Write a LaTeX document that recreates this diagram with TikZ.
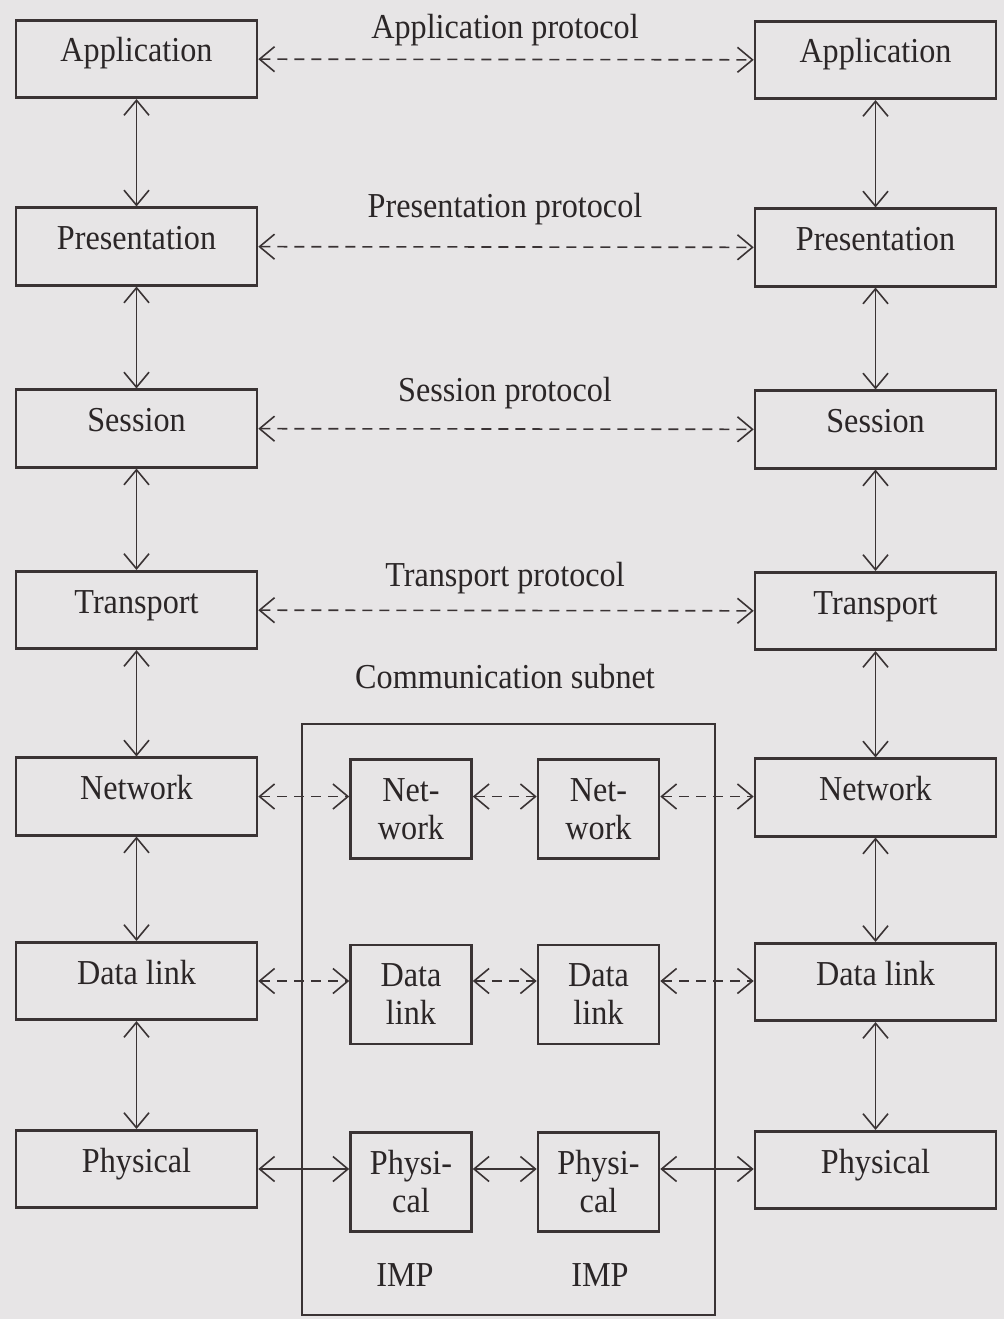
\documentclass[tikz,border=0pt]{standalone}
\usepackage{fontspec}
\setmainfont[FakeStretch=0.92]{Liberation Serif}
\usetikzlibrary{arrows.meta}
\definecolor{paper}{HTML}{E7E5E6}
\definecolor{ink}{HTML}{3A3334}
\definecolor{textink}{HTML}{2B2627}
\begin{document}
\begin{tikzpicture}[x=1pt,y=-1pt,
  every node/.style={font=\fontsize{35}{38}\selectfont, text=textink},
  layer/.style={draw=ink, line width=2.6pt, minimum width=241pt, minimum height=77.5pt,
    inner sep=0pt, text height=26pt, text depth=20pt},
  impbox/.style={draw=ink, line width=2.6pt, minimum width=121pt, minimum height=99pt,
    inner sep=0pt, align=center, text height=64pt, text depth=4pt},
  link/.style={draw=ink, line width=1.6pt,
    {Straight Barb[length=15pt,width=25pt]}-{Straight Barb[length=15pt,width=25pt]}},
  peer/.style={link, dash pattern=on 10pt off 7pt},
  caption/.style={anchor=base}
]
\fill[paper] (0,0) rectangle (1004,1319);
\useasboundingbox (0,0) rectangle (1004,1319);

% host A layers
\node[layer] (appL) at (136.5,59)     {Application};
\node[layer] (preL) at (136.5,246.5)  {Presentation};
\node[layer] (sesL) at (136.5,428.5)  {Session};
\node[layer] (traL) at (136.5,610)    {Transport};
\node[layer] (netL) at (136.5,796.5)  {Network};
\node[layer] (dlkL) at (136.5,981)    {Data link};
\node[layer] (phyL) at (136.5,1169)   {Physical};

% host B layers
\node[layer] (appR) at (875.5,60)     {Application};
\node[layer] (preR) at (875.5,247.5)  {Presentation};
\node[layer] (sesR) at (875.5,429.5)  {Session};
\node[layer] (traR) at (875.5,611)    {Transport};
\node[layer] (netR) at (875.5,797.5)  {Network};
\node[layer] (dlkR) at (875.5,982)    {Data link};
\node[layer] (phyR) at (875.5,1170)   {Physical};

% communication subnet with its two IMPs
\node[draw=ink, line width=2.6pt, minimum width=413pt, minimum height=591pt, inner sep=0pt]
  (subnet) at (508.5,1019.5) {};
\node[impbox] (netIL) at (411,809)    {Net-\\work};
\node[impbox] (netIR) at (598.5,809)  {Net-\\work};
\node[impbox] (dlkIL) at (411,994.5)  {Data\\link};
\node[impbox] (dlkIR) at (598.5,994.5){Data\\link};
\node[impbox] (phyIL) at (411,1182)   {Physi-\\cal};
\node[impbox] (phyIR) at (598.5,1182) {Physi-\\cal};

% captions
\node[caption] (capApp) at (505,39)   {Application protocol};
\node[caption] (capPre) at (505,217)  {Presentation protocol};
\node[caption] (capSes) at (505,401)  {Session protocol};
\node[caption] (capTra) at (505,586)  {Transport protocol};
\node[caption] (capSub) at (505,688)  {Communication subnet};
\node[caption] (impL)   at (405,1286) {IMP};
\node[caption] (impR)   at (600,1286) {IMP};

% vertical interfaces inside each host
\foreach \side in {L,R}{
  \draw[link] (app\side) -- (pre\side);
  \draw[link] (pre\side) -- (ses\side);
  \draw[link] (ses\side) -- (tra\side);
  \draw[link] (tra\side) -- (net\side);
  \draw[link] (net\side) -- (dlk\side);
  \draw[link] (dlk\side) -- (phy\side);
}

% peer protocols between hosts
\draw[peer] (appL) -- (appR);
\draw[peer] (preL) -- (preR);
\draw[peer] (sesL) -- (sesR);
\draw[peer] (traL) -- (traR);

% hop-by-hop protocols through the subnet
\draw[peer] (netL.east) -- (netIL.west |- netL.east);
\draw[peer] (netIL.east |- netL.east) -- (netIR.west |- netL.east);
\draw[peer] (netIR.east |- netL.east) -- (netR.west |- netL.east);

\draw[peer] (dlkL.east) -- (dlkIL.west |- dlkL.east);
\draw[peer] (dlkIL.east |- dlkL.east) -- (dlkIR.west |- dlkL.east);
\draw[peer] (dlkIR.east |- dlkL.east) -- (dlkR.west |- dlkL.east);

\draw[link] (phyL.east) -- (phyIL.west |- phyL.east);
\draw[link] (phyIL.east |- phyL.east) -- (phyIR.west |- phyL.east);
\draw[link] (phyIR.east |- phyL.east) -- (phyR.west |- phyL.east);
\end{tikzpicture}
\end{document}
